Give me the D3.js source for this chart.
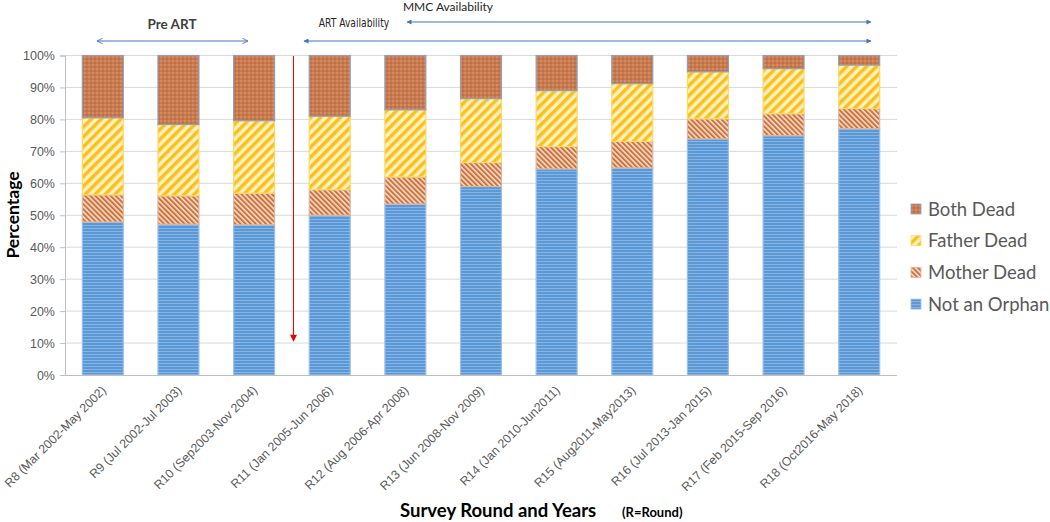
<!DOCTYPE html>
<html><head><meta charset="utf-8">
<script src="https://cdn.jsdelivr.net/npm/d3@7"></script>
<style>body{margin:0;background:#fff;} svg{display:block;font-family:Lato, "Open Sans", sans-serif;}</style>
</head><body>
<svg id="c" width="1050" height="522"></svg>
<script>
const categories = ["R8 (Mar 2002-May 2002)","R9 (Jul 2002-Jul 2003)","R10 (Sep2003-Nov 2004)","R11 (Jan 2005-Jun 2006)","R12 (Aug 2006-Apr 2008)","R13 (Jun 2008-Nov 2009)","R14 (Jan 2010-Jun2011)","R15 (Aug2011-May2013)","R16 (Jul 2013-Jan 2015)","R17 (Feb 2015-Sep 2016)","R18 (Oct2016-May 2018)"];
const notOrphan   = [47.9, 47.2, 47.0, 50.0, 53.5, 59.0, 64.5, 64.8, 73.9, 74.9, 77.1];
const motherDead  = [ 8.5,  8.9,  9.9,  8.0,  8.5,  7.5,  7.0,  8.3,  6.3,  6.9,  6.3];
const fatherDead  = [24.1, 22.3, 22.7, 23.0, 21.0, 20.0, 17.5, 18.1, 14.7, 14.1, 13.6];
const bothDead    = [19.5, 21.6, 20.4, 19.0, 17.0, 13.5, 11.0,  8.8,  5.1,  4.1,  3.0];
const yTicks = [0,10,20,30,40,50,60,70,80,90,100];
const seriesNames = ["Not an Orphan","Mother Dead","Father Dead","Both Dead"];

const svg = d3.select("#c");
const defs = svg.append("defs");
// patterns
const pBoth = defs.append("pattern").attr("id","pBoth").attr("width",4).attr("height",4).attr("patternUnits","userSpaceOnUse");
pBoth.append("rect").attr("width",4).attr("height",4).attr("fill","#c97b50");
pBoth.append("rect").attr("width",2).attr("height",2).attr("fill","#d58b62");
pBoth.append("rect").attr("x",2).attr("y",2).attr("width",2).attr("height",2).attr("fill","#bf7048");
const pFather = defs.append("pattern").attr("id","pFather").attr("width",7).attr("height",7).attr("patternUnits","userSpaceOnUse").attr("patternTransform","rotate(45)");
pFather.append("rect").attr("width",7).attr("height",7).attr("fill","#fff0c4");
pFather.append("rect").attr("width",3.5).attr("height",7).attr("fill","#f9c21a");
const pMother = defs.append("pattern").attr("id","pMother").attr("width",3.6).attr("height",3.6).attr("patternUnits","userSpaceOnUse").attr("patternTransform","rotate(-45)");
pMother.append("rect").attr("width",3.6).attr("height",3.6).attr("fill","#f4ddd0");
pMother.append("rect").attr("width",2).attr("height",3.6).attr("fill","#cf7338");
const pNot = defs.append("pattern").attr("id","pNot").attr("width",6).attr("height",3).attr("patternUnits","userSpaceOnUse");
pNot.append("rect").attr("width",6).attr("height",3).attr("fill","#5b98d6");
pNot.append("rect").attr("y",0).attr("width",6).attr("height",1).attr("fill","#86b5e5");
const fills = {"Not an Orphan":"url(#pNot)","Mother Dead":"url(#pMother)","Father Dead":"url(#pFather)","Both Dead":"url(#pBoth)"};
const strokes = {"Not an Orphan":"#9dc0e8","Mother Dead":"#d9b8a6","Father Dead":"#ffd966","Both Dead":"#8f9fbc"};

// defs for arrows
function marker(id, color, open){
  const m = defs.append("marker").attr("id",id).attr("viewBox","0 0 10 10").attr("refX",9).attr("refY",5)
    .attr("markerWidth",open?7:6).attr("markerHeight",open?7:5).attr("orient","auto-start-reverse").attr("markerUnits","userSpaceOnUse");
  if(open) m.append("path").attr("d","M1,1 L9,5 L1,9").attr("fill","none").attr("stroke",color).attr("stroke-width",1.2);
  else m.append("path").attr("d","M0,0 L10,5 L0,10 z").attr("fill",color);
}
marker("aOpen","#4472c4",true);
marker("aFill","#4472c4",false);
const mr = defs.append("marker").attr("id","aRed").attr("viewBox","0 0 10 10").attr("refX",9).attr("refY",5)
  .attr("markerWidth",8).attr("markerHeight",7).attr("orient","auto").attr("markerUnits","userSpaceOnUse");
mr.append("path").attr("d","M0,0 L10,5 L0,10 z").attr("fill","#ee0000");

const x = d3.scaleBand().domain(categories).range([65,897]).paddingInner(0.445).paddingOuter(0.2225);
const y = d3.scaleLinear().domain([0,100]).range([375,55.5]);

// gridlines
svg.append("g").selectAll("line").data(yTicks.slice(1)).join("line")
  .attr("x1",65).attr("x2",897).attr("y1",d=>y(d)).attr("y2",d=>y(d))
  .attr("stroke","#d9d9d9").attr("stroke-width",1);

// y axis
const yAxis = svg.append("g").attr("transform","translate(65,0)")
  .call(d3.axisLeft(y).tickValues(yTicks).tickFormat(d=>d+"%").tickSize(5).tickPadding(5));
yAxis.select(".domain").attr("stroke","#bfbfbf");
yAxis.selectAll(".tick line").attr("stroke","#bfbfbf");
yAxis.selectAll("text").attr("fill","#595959").style("font-size","12.5px");

// stacked data
const table = categories.map((c,i)=>({cat:c,"Not an Orphan":notOrphan[i],"Mother Dead":motherDead[i],"Father Dead":fatherDead[i],"Both Dead":bothDead[i]}));
const stack = d3.stack().keys(seriesNames)(table);
svg.append("g").selectAll("g").data(stack).join("g")
  .attr("fill",d=>fills[d.key]).attr("stroke",d=>strokes[d.key])
  .selectAll("rect").data(d=>d).join("rect")
  .attr("x",d=>x(d.data.cat)+0.5).attr("width",x.bandwidth()-1)
  .attr("y",d=>y(Math.min(d[1],100))).attr("height",d=>y(d[0])-y(Math.min(d[1],100)))
  .attr("stroke-width",1.2);

// x axis
const xAxis = svg.append("g").attr("transform","translate(0,375)").call(d3.axisBottom(x).tickSize(0).tickPadding(0));
xAxis.select(".domain").attr("stroke","#bfbfbf").attr("d","M65,0.5H897");
xAxis.selectAll("text").attr("fill","#595959").style("font-size","12.3px")
  .attr("text-anchor","end").attr("dy",null).attr("y",0)
  .attr("transform","translate(4,16) rotate(-45)");

// legend (top to bottom: reverse order)
const legOrder = ["Both Dead","Father Dead","Mother Dead","Not an Orphan"];
const leg = svg.append("g").selectAll("g").data(legOrder).join("g")
  .attr("transform",(d,i)=>`translate(911,${209+i*31.7})`);
leg.append("rect").attr("x",0).attr("y",-5).attr("width",10).attr("height",10)
  .attr("fill",d=>fills[d]).attr("stroke",d=>strokes[d]).attr("stroke-width",0.8);
leg.append("text").attr("x",17).attr("y",0).attr("dy","0.36em").text(d=>d)
  .attr("fill","#595959").style("font-size","18.5px");

// axis titles
svg.append("text").attr("transform","translate(19,215) rotate(-90)").attr("text-anchor","middle")
  .style("font-size","17.5px").style("font-weight","bold").attr("fill","#000").text("Percentage");
svg.append("text").attr("x",400).attr("y",517).style("font-size","18.5px").style("font-weight","bold").attr("fill","#000")
  .text("Survey Round and Years");
svg.append("text").attr("x",622).attr("y",517).style("font-size","13px").style("font-weight","bold").attr("fill","#000")
  .text("(R=Round)");

// annotations
svg.append("text").attr("x",172).attr("y",29).attr("text-anchor","middle").style("font-size","13.5px").style("font-weight","bold").attr("fill","#404040").text("Pre ART");
svg.append("line").attr("x1",97).attr("x2",248).attr("y1",41).attr("y2",41).attr("stroke","#4472c4").attr("stroke-width",1)
  .attr("marker-start","url(#aOpen)").attr("marker-end","url(#aOpen)");
svg.append("text").attr("x",354).attr("y",27).attr("text-anchor","middle").style("font-size","12px").style("font-family","'Liberation Sans Narrow', 'DejaVu Sans Condensed', sans-serif").attr("transform","translate(354,0) scale(0.85,1) translate(-354,0)").attr("fill","#262626").text("ART Availability");
svg.append("line").attr("x1",304).attr("x2",871).attr("y1",41).attr("y2",41).attr("stroke","#4472c4").attr("stroke-width",1.2)
  .attr("marker-start","url(#aFill)").attr("marker-end","url(#aFill)");
svg.append("text").attr("x",448).attr("y",11).attr("text-anchor","middle").style("font-size","12px").attr("fill","#262626").text("MMC Availability");
svg.append("line").attr("x1",407).attr("x2",871).attr("y1",22).attr("y2",22).attr("stroke","#4472c4").attr("stroke-width",1.2)
  .attr("marker-start","url(#aFill)").attr("marker-end","url(#aFill)");
svg.append("line").attr("x1",293.5).attr("x2",293.5).attr("y1",56).attr("y2",341).attr("stroke","#ee0000").attr("stroke-width",1)
  .attr("marker-end","url(#aRed)");
</script>
</body></html>
